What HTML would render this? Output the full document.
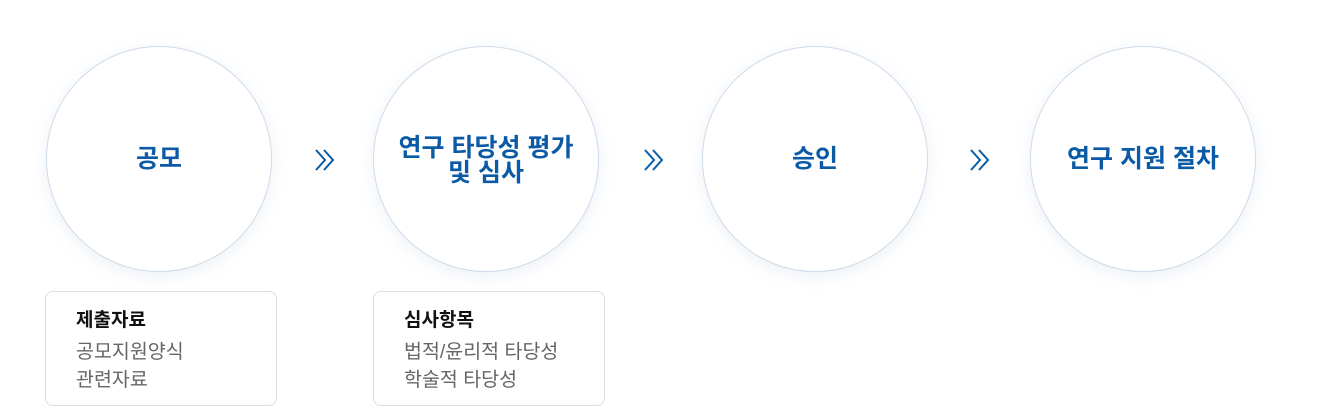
<!DOCTYPE html>
<html><head><meta charset="utf-8"><style>
body{margin:0;width:1317px;height:407px;background:#fff;position:relative;overflow:hidden;font-family:"Liberation Sans","Noto Sans CJK KR",sans-serif}
.c{position:absolute;top:46px;width:226px;height:226px;border-radius:50%;border:1px solid #cfdbe8;box-sizing:border-box;background:#fff;box-shadow:0 4px 16px rgba(120,150,190,.14);display:flex;align-items:center;justify-content:center;text-align:center;color:#0b5aa6;font-weight:bold;font-size:25px;line-height:25px}
.a{position:absolute;top:146px}
.b{position:absolute;top:291px;height:115px;border:1px solid #d8e0ea;border-radius:8px;box-sizing:border-box;padding:16px 0 0 30px}
.b h{display:block;font-weight:bold;font-size:19px;color:#111;margin-bottom:4px;line-height:26px}
.b p{margin:0;font-size:19.5px;color:#666;line-height:28px}
</style></head><body>
<div class="c" style="left:46px">공모</div>
<div class="c" style="left:373px;padding-top:4px">연구 타당성 평가<br>및 심사</div>
<div class="c" style="left:702px">승인</div>
<div class="c" style="left:1030px">연구 지원 절차</div>
<svg class="a" style="left:313px" width="24" height="28"><path d="M3 4L12 14L3 24M11 4L20 14L11 24" fill="none" stroke="#0b5aa6" stroke-width="2"/></svg>
<svg class="a" style="left:642px" width="24" height="28"><path d="M3 4L12 14L3 24M11 4L20 14L11 24" fill="none" stroke="#0b5aa6" stroke-width="2"/></svg>
<svg class="a" style="left:968px" width="24" height="28"><path d="M3 4L12 14L3 24M11 4L20 14L11 24" fill="none" stroke="#0b5aa6" stroke-width="2"/></svg>
<div class="b" style="left:45px;width:232px"><h>제출자료</h><p>공모지원양식<br>관련자료</p></div>
<div class="b" style="left:373px;width:232px"><h>심사항목</h><p>법적/윤리적 타당성<br>학술적 타당성</p></div>
</body></html>
